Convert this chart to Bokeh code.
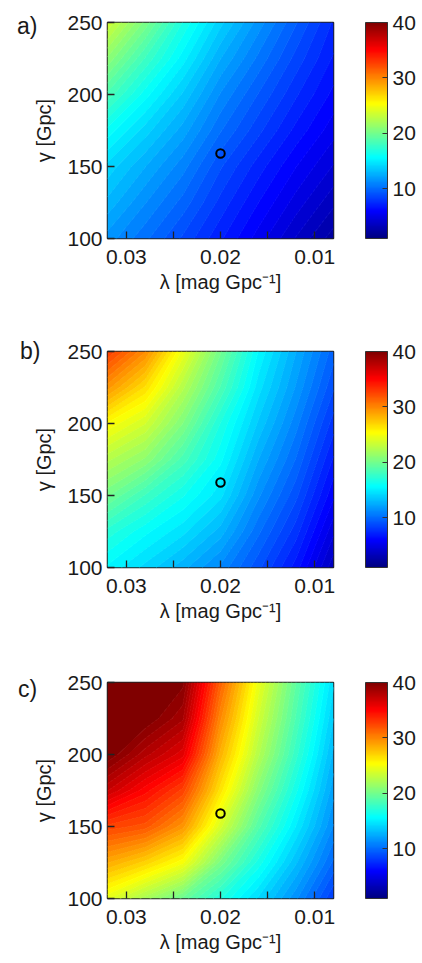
import numpy as np
from bokeh.plotting import figure
from bokeh.models import LinearColorMapper, ColorBar, FixedTicker, Range1d, CustomJSTickFormatter, Div
from bokeh.layouts import column
from bokeh.embed import file_html
from bokeh.resources import INLINE

# lambda values of the grid columns (mag/Gpc), gamma values of the grid rows (Gpc)
lam = [0.032, 0.028, 0.024, 0.020, 0.016, 0.012, 0.008]
gam = [100, 125, 150, 175, 200, 225, 250]

# values; rows follow gam (bottom -> top), columns follow lam
grid_a = [
    [11.7, 10.3, 8.8, 7.2, 5.6, 4.0, 2.5],
    [13.0, 11.4, 9.9, 8.1, 6.5, 5.0, 3.6],
    [14.2, 12.6, 11.0, 9.0, 7.4, 5.9, 4.6],
    [16.0, 14.1, 12.3, 10.2, 8.5, 6.9, 5.5],
    [18.5, 15.9, 13.7, 11.3, 9.5, 7.8, 6.3],
    [21.0, 18.0, 15.3, 12.6, 10.6, 8.7, 7.0],
    [23.5, 20.3, 16.8, 14.0, 11.7, 9.6, 7.6],
]
grid_b = [
    [15.5, 14.2, 12.8, 11.2, 9.1, 6.8, 3.6],
    [17.2, 15.8, 14.6, 12.9, 10.3, 8.0, 4.8],
    [20.0, 18.0, 16.3, 14.6, 11.5, 9.1, 6.0],
    [22.5, 21.0, 18.4, 15.8, 12.6, 10.1, 7.0],
    [25.3, 23.6, 20.5, 16.8, 13.7, 11.0, 8.0],
    [29.3, 26.5, 22.5, 18.6, 14.7, 11.9, 9.0],
    [32.7, 29.7, 24.6, 20.0, 15.6, 12.6, 9.8],
]
grid_c = [
    [24.3, 22.0, 19.7, 16.9, 14.3, 11.5, 8.3],
    [28.5, 27.0, 25.0, 20.3, 16.6, 13.3, 10.0],
    [32.5, 31.8, 29.3, 23.8, 18.9, 15.0, 11.3],
    [37.0, 34.8, 32.5, 26.3, 20.8, 16.4, 12.2],
    [40.0, 37.8, 36.0, 28.2, 22.5, 17.7, 13.0],
    [40.0, 40.0, 38.3, 29.8, 23.6, 18.6, 13.8],
    [40.0, 40.0, 39.6, 31.3, 24.6, 19.3, 14.5],
]
best_lam = [0.020]
best_gam = [159]

x_ticks = [0.03, 0.02, 0.01]
x_minor = [0.025, 0.015]
y_ticks = [100, 150, 200, 250]
cbar_ticks = [10, 20, 30, 40]
cbar_low, cbar_high = 1, 40
panel_labels = ["a)", "b)", "c)"]

FONT = "Liberation Sans"
INK = "#1a1a1a"


def jet(n):
    cols = []
    for i in range(n):
        t = i / (n - 1)
        r = min(max(1.5 - abs(4 * t - 3), 0), 1)
        g = min(max(1.5 - abs(4 * t - 2), 0), 1)
        b = min(max(1.5 - abs(4 * t - 1), 0), 1)
        cols.append("#%02x%02x%02x" % (int(r * 255 + .5), int(g * 255 + .5), int(b * 255 + .5)))
    return cols


N_LEVELS = 64
levels = list(np.linspace(cbar_low, cbar_high, N_LEVELS + 1))
levels[-1] = cbar_high + 0.01
band_colors = jet(N_LEVELS)
edge_colors = jet(N_LEVELS + 1)
bar_palette = jet(256)

# the lambda axis runs from large (left) to small (right): plot -lambda, label |value|
xneg = [-v for v in lam]


def make_panel(grid, top, bottom):
    mapper = LinearColorMapper(palette=bar_palette, low=cbar_low, high=cbar_high)
    p = figure(frame_width=226, frame_height=216,
               x_range=Range1d(-max(lam), -min(lam)), y_range=Range1d(gam[0], gam[-1]),
               output_backend="svg", toolbar_location=None,
               min_border_left=107, min_border_right=89,
               min_border_top=top, min_border_bottom=bottom)
    p.contour(x=xneg, y=gam, z=np.array(grid, dtype=float), levels=levels,
              fill_color=band_colors, line_color=edge_colors, line_width=1.0)
    p.scatter([-v for v in best_lam], best_gam, size=8.5, fill_color=None,
              line_color="black", line_width=2)

    p.grid.visible = False
    p.outline_line_color = "#222222"
    p.outline_line_width = 1.5
    p.background_fill_color = "white"

    p.xaxis.ticker = FixedTicker(ticks=[-v for v in x_ticks], minor_ticks=[-v for v in x_minor])
    p.xaxis.formatter = CustomJSTickFormatter(code="return Math.abs(tick).toFixed(2);")
    p.yaxis.ticker = FixedTicker(ticks=y_ticks, minor_ticks=[])
    for ax in (p.xaxis, p.yaxis):
        ax.axis_line_color = None
        ax.major_tick_in = 7
        ax.major_tick_out = 0
        ax.minor_tick_in = 7
        ax.minor_tick_out = 0
        ax.major_tick_line_color = "#222222"
        ax.minor_tick_line_color = "#222222"
        ax.major_tick_line_width = 1.3
        ax.minor_tick_line_width = 1.3
        ax.major_label_text_font = FONT
        ax.major_label_text_font_size = "21px"
        ax.major_label_text_color = INK
        ax.axis_label_text_font = FONT
        ax.axis_label_text_font_size = "20px"
        ax.axis_label_text_font_style = "normal"
        ax.axis_label_text_color = INK
    p.xaxis.axis_label = "λ [mag Gpc⁻¹]"
    p.yaxis.axis_label = "γ [Gpc]"
    p.xaxis.major_label_standoff = 11
    p.xaxis.axis_label_standoff = 4
    p.yaxis.major_label_standoff = 5
    p.yaxis.axis_label_standoff = 9

    cb = ColorBar(color_mapper=mapper, ticker=FixedTicker(ticks=cbar_ticks),
                  width=22, height=216, padding=0, margin=0, location=(258, 0),
                  bar_line_color="#333333", bar_line_width=1,
                  major_tick_line_color="#333333", major_tick_in=5, major_tick_out=0,
                  major_label_text_font=FONT, major_label_text_font_size="21px",
                  major_label_text_color=INK, label_standoff=5,
                  border_line_color=None, background_fill_color=None)
    p.add_layout(cb)
    return p


def tag(text, dx, dy):
    # panel letter, laid over the top-left corner of the figure that follows it
    return Div(text=text, width=40, height=0,
               styles={"z-index": "10", "overflow": "visible",
                       "transform": "translate(%dpx, %dpx)" % (dx, dy),
                       "font-family": FONT, "font-size": "23px", "line-height": "1",
                       "color": INK})


p1 = make_panel(grid_a, 12, 92)
p2 = make_panel(grid_b, 11, 94)
p3 = make_panel(grid_c, 11, 62)

layout = column(tag(panel_labels[0], 12, 10), p1,
                tag(panel_labels[1], 15, 5), p2,
                tag(panel_labels[2], 13, 12), p3, spacing=0)
open("out.html", "w").write(file_html(layout, INLINE))
